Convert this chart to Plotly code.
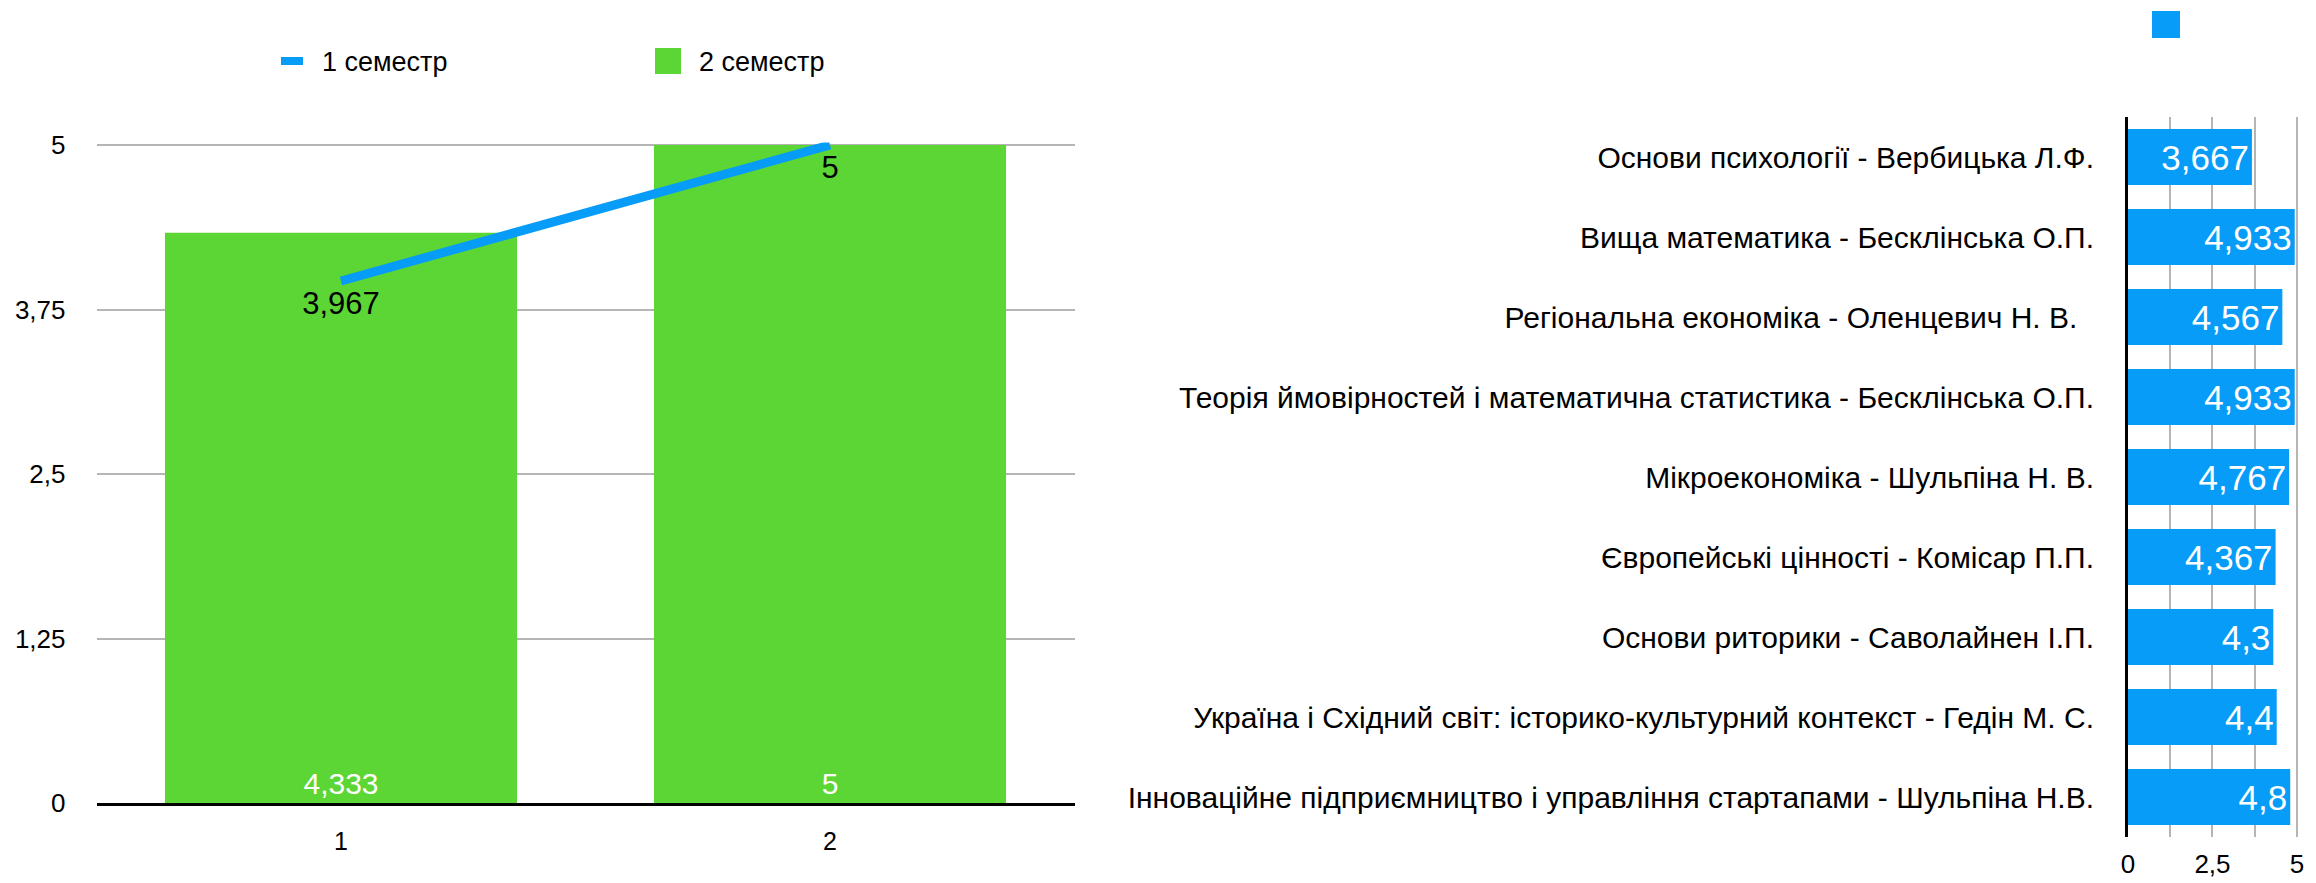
import plotly.graph_objects as go

# ---------------- data ----------------
semesters = ["1", "2"]
semester1_values = [3.967, 5]      # line "1 семестр"
semester2_values = [4.333, 5]      # bars "2 семестр"
left_yticks = [0, 1.25, 2.5, 3.75, 5]

subjects = [
    "Основи психології - Вербицька Л.Ф.",
    "Вища математика - Бесклінська О.П.",
    "Регіональна економіка - Оленцевич Н. В.\u00a0\u00a0",
    "Теорія ймовірностей і математична статистика - Бесклінська О.П.",
    "Мікроекономіка - Шульпіна Н. В.",
    "Європейські цінності - Комісар П.П.",
    "Основи риторики - Саволайнен І.П.",
    "Україна і Східний світ: історико-культурний контекст - Гедін М. С.",
    "Інноваційне підприємництво і управління стартапами - Шульпіна Н.В.",
]
subject_scores = [3.667, 4.933, 4.567, 4.933, 4.767, 4.367, 4.3, 4.4, 4.8]
right_xticks = [0, 1.25, 2.5, 3.75, 5]
right_xticklabels = ["0", "", "2,5", "", "5"]

legend_names = ["1 семестр", "2 семестр"]

# ---------------- styles ----------------
OFF = 8                      # default page body margin
W, H = 2316 - OFF, 883 - OFF
BLUE = "#079CF7"
GREEN = "#5CD634"
GRID = "#B5B5B5"
FONT = "Liberation Sans, Arial, Helvetica, sans-serif"


def px(x):
    return (x - OFF) / W


def py(y):
    return 1 - (y - OFF) / H


fig = go.Figure()

fig.add_trace(go.Bar(
    x=semesters, y=semester2_values, name=legend_names[1],
    marker=dict(color=GREEN, line=dict(width=0)), width=0.72,
    text=semester2_values, texttemplate="%{y}", textposition="inside",
    insidetextanchor="start", constraintext="none",
    insidetextfont=dict(color="white", size=30, family=FONT),
    xaxis="x", yaxis="y", showlegend=False,
))

fig.add_trace(go.Scatter(
    x=semesters, y=semester1_values, name=legend_names[0],
    mode="lines+markers+text", line=dict(color=BLUE, width=9),
    marker=dict(size=14, color="rgba(0,0,0,0)", line=dict(width=0)),
    text=semester1_values, texttemplate="%{y}", textposition="bottom center",
    textfont=dict(color="black", size=31, family=FONT),
    xaxis="x", yaxis="y", showlegend=False, cliponaxis=False,
))

fig.add_trace(go.Bar(
    x=subject_scores, y=subjects, orientation="h", name="",
    marker=dict(color=BLUE, line=dict(width=0)), width=0.7,
    text=subject_scores, texttemplate="%{x}", textposition="inside",
    insidetextanchor="end", constraintext="none",
    insidetextfont=dict(color="white", size=35, family=FONT),
    xaxis="x2", yaxis="y2", showlegend=False,
))

fig.update_layout(
    width=W, height=H, autosize=False,
    margin=dict(l=0, r=0, t=0, b=0, pad=0),
    paper_bgcolor="white", plot_bgcolor="white",
    separators=", ",
    font=dict(family=FONT, color="black", size=26),
    xaxis=dict(
        domain=[px(96.5), px(1074.5)], range=[-0.5, 1.5], type="category",
        showline=True, linecolor="black", linewidth=3, showgrid=False,
        zeroline=False, ticks="", tickfont=dict(size=25), ticklabelstandoff=14,
        anchor="y", fixedrange=True, automargin=False,
    ),
    yaxis=dict(
        domain=[py(803), py(142.4)], range=[0, 5.02], tickvals=left_yticks,
        showgrid=True, gridcolor=GRID, gridwidth=2, zeroline=False,
        showline=False, ticks="", tickfont=dict(size=26), ticklabelstandoff=30,
        anchor="x", fixedrange=True, automargin=False,
    ),
    xaxis2=dict(
        domain=[px(2128), px(2298)], range=[0, 5.03], tickvals=right_xticks,
        ticktext=right_xticklabels, showgrid=True, gridcolor=GRID, gridwidth=2,
        zeroline=False, showline=False, ticks="", tickfont=dict(size=26),
        ticklabelstandoff=9, anchor="y2", fixedrange=True, automargin=False,
    ),
    yaxis2=dict(
        domain=[py(837), py(117)], type="category", autorange="reversed",
        showline=True, linecolor="black", linewidth=3, showgrid=False,
        ticks="", tickfont=dict(size=30), ticklabelstandoff=25,
        anchor="x2", fixedrange=True, automargin=False,
    ),
    bargap=0.3,
)

# manual legends (large symbols as in the reference)
fig.add_shape(type="line", xref="paper", yref="paper",
              x0=px(281), x1=px(303), y0=py(61), y1=py(61),
              line=dict(color=BLUE, width=8))
fig.add_shape(type="rect", xref="paper", yref="paper",
              x0=px(655), x1=px(681), y0=py(74), y1=py(48),
              fillcolor=GREEN, line=dict(width=0))
fig.add_shape(type="rect", xref="paper", yref="paper",
              x0=px(2152), x1=px(2180), y0=py(38), y1=py(11),
              fillcolor=BLUE, line=dict(width=0))
for name, x0 in zip(legend_names, [320, 697]):
    fig.add_annotation(xref="paper", yref="paper", x=px(x0), y=py(62),
                       text=name, showarrow=False, xanchor="left",
                       yanchor="middle", font=dict(size=27, family=FONT))

fig.write_html("out.html")
